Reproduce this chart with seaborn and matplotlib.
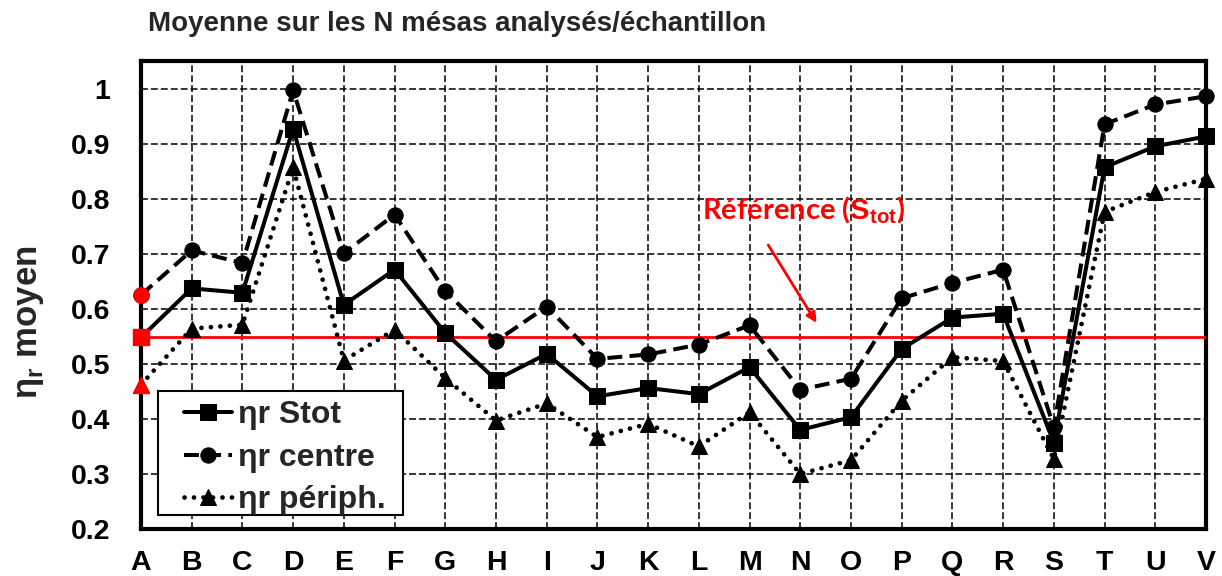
import numpy as np
import matplotlib
matplotlib.use("Agg")
import matplotlib.pyplot as plt
from matplotlib.patches import Rectangle
import seaborn as sns

# Samples
categories = list("ABCDEFGHIJKLMNOPQRSTUV")

# Mean relative efficiency per sample
eta_stot = [0.548, 0.637, 0.629, 0.927, 0.607, 0.671, 0.556, 0.471, 0.518, 0.441, 0.456,
            0.445, 0.494, 0.380, 0.403, 0.527, 0.584, 0.591, 0.357, 0.857, 0.895, 0.913]
eta_centre = [0.625, 0.706, 0.683, 0.997, 0.701, 0.771, 0.632, 0.541, 0.604, 0.509, 0.517,
              0.535, 0.570, 0.453, 0.473, 0.619, 0.647, 0.671, 0.385, 0.935, 0.971, 0.986]
eta_periph = [0.462, 0.564, 0.571, 0.857, 0.506, 0.562, 0.474, 0.397, 0.428, 0.367, 0.391,
              0.350, 0.412, 0.300, 0.325, 0.433, 0.512, 0.505, 0.327, 0.776, 0.812, 0.836]

series_labels = ["ηr Stot", "ηr centre", "ηr périph."]
y_ticks = [0.2, 0.3, 0.4, 0.5, 0.6, 0.7, 0.8, 0.9, 1.0]
y_tick_labels = ["0.2", "0.3", "0.4", "0.5", "0.6", "0.7", "0.8", "0.9", "1"]

sns.set_style("white")
plt.rcParams["font.family"] = ["Liberation Sans", "DejaVu Sans"]
plt.rcParams["font.weight"] = "bold"
plt.rcParams["mathtext.fontset"] = "custom"
plt.rcParams["mathtext.rm"] = "Liberation Sans"
plt.rcParams["mathtext.bf"] = "Liberation Sans:bold"

fig = plt.figure(figsize=(12.22, 5.76), dpi=100)
ax = fig.add_axes([141 / 1222, 1 - 529 / 576, 1065 / 1222, 468 / 576])

x = np.arange(len(categories))

common = dict(ax=ax, color="black", markeredgecolor="black", markerfacecolor="black",
              markeredgewidth=0.75, clip_on=False, zorder=4)
sns.lineplot(x=x, y=eta_stot, marker="s", markersize=11.5, linewidth=2.9,
             label=series_labels[0], **common)
sns.lineplot(x=x, y=eta_centre, marker="o", markersize=11, linewidth=2.9,
             linestyle=(0, (3.7, 1.8)), label=series_labels[1], **common)
sns.lineplot(x=x, y=eta_periph, marker="^", markersize=11, linewidth=3.4,
             linestyle=(0, (0.01, 2.0)), dash_capstyle="round",
             label=series_labels[2], **common)

# First sample highlighted in red
for vals, mk, ms in [(eta_stot, "s", 11.5), (eta_centre, "o", 11), (eta_periph, "^", 11)]:
    ax.plot(x[0], vals[0], marker=mk, markersize=ms, color="red", linestyle="none",
            clip_on=False, zorder=6)

# Reference level
ax.axhline(eta_stot[0], color="red", linewidth=2.0, zorder=3)
ax.annotate("", xy=(13.35, 0.570), xytext=(12.34, 0.72),
            arrowprops=dict(arrowstyle="-|>", color="red", lw=2.0, mutation_scale=15),
            zorder=5)
ax.text(11.06, 0.762, "Référence ($\\mathbf{S_{tot}}$)", color="red", fontsize=21,
        fontweight="bold", family=["Lato", "DejaVu Sans"], ha="left", va="baseline",
        zorder=5)

ax.set_xlim(0, len(categories) - 1)
ax.set_ylim(0.2, 1.05)
ax.set_xticks(x)
ax.set_xticklabels(categories)
ax.set_yticks(y_ticks)
ax.set_yticklabels(y_tick_labels)
ax.tick_params(axis="both", direction="in", length=5, width=2.5, labelsize=20.5, colors="black")
ax.tick_params(axis="y", pad=22)
ax.tick_params(axis="x", pad=15)
for lab in ax.get_xticklabels() + ax.get_yticklabels():
    lab.set_fontweight("bold")

ax.grid(True, color="black", linestyle=(0, (4.5, 2)), linewidth=1.1, zorder=1)
ax.set_axisbelow(True)
for sp in ax.spines.values():
    sp.set_visible(True)
    sp.set_color("black")
    sp.set_linewidth(3)

ax.set_xlabel("")
ax.set_ylabel("")
fig.text(30 / 1222, 1 - 322 / 576, "η$_{\\mathbf{r}}$ moyen", rotation=90,
         fontsize=25, fontweight="bold", ha="center", va="center")
fig.text(148 / 1222, 1 - 24 / 576, "Moyenne sur les N mésas analysés/échantillon",
         fontsize=20, fontweight="bold", ha="left", va="center")

# Legend: framed box with the entries inside
ax.add_patch(Rectangle((0.016, 0.030), 0.230, 0.265, transform=ax.transAxes,
                       facecolor="white", edgecolor="black", linewidth=1.5,
                       zorder=6.5, clip_on=False))
leg = ax.legend(loc="center left", bbox_to_anchor=(0.040, 0.152), borderaxespad=0,
                fontsize=23, handlelength=1.5, handletextpad=0.2, labelspacing=0.39,
                borderpad=0, frameon=False)
leg.set_zorder(7)

fig.savefig("out.png", dpi=100)
